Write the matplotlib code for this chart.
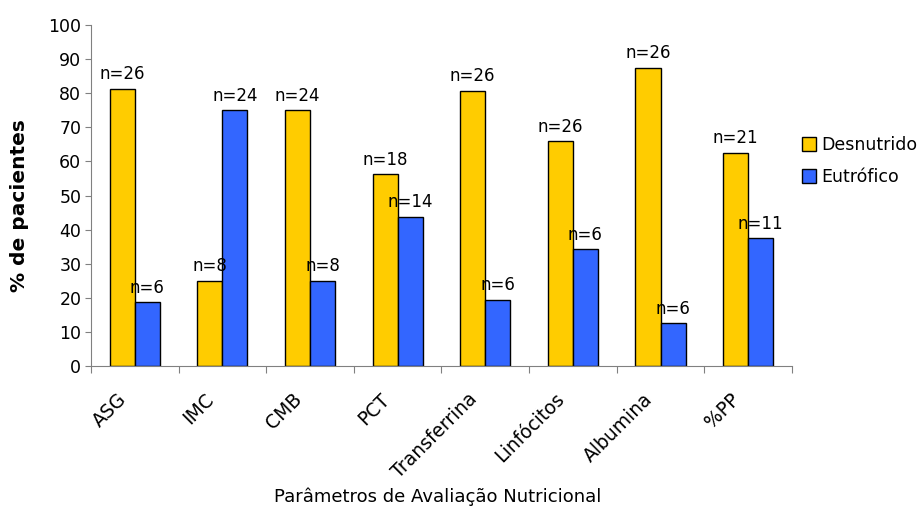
import matplotlib
matplotlib.use("Agg")
import matplotlib.pyplot as plt
import matplotlib.transforms as mtransforms
import numpy as np

categories = ["ASG", "IMC", "CMB", "PCT", "Transferrina", "Linfócitos", "Albumina", "%PP"]
desnutrido = [81.25, 25.0, 75.0, 56.25, 80.8, 65.9, 87.5, 62.5]
eutrofico = [18.75, 75.0, 25.0, 43.75, 19.4, 34.3, 12.5, 37.5]
n_desnutrido = [26, 8, 24, 18, 26, 26, 26, 21]
n_eutrofico = [6, 24, 8, 14, 6, 6, 6, 11]

plt.rcParams["font.family"] = "DejaVu Sans"

fig = plt.figure(figsize=(9.23, 5.12), dpi=100)
ax = fig.add_axes([0.0986, 0.285, 0.7594, 0.666])

x = np.arange(len(categories))
w = 0.286
b1 = ax.bar(x - w / 2, desnutrido, w, color="#FFCC00", edgecolor="black", linewidth=1.0, label="Desnutrido")
b2 = ax.bar(x + w / 2, eutrofico, w, color="#3366FF", edgecolor="black", linewidth=1.0, label="Eutrófico")

for bars, ns in ((b1, n_desnutrido), (b2, n_eutrofico)):
    for rect, n in zip(bars, ns):
        ax.annotate(f"n={n}", (rect.get_x() + rect.get_width() / 2, rect.get_height()),
                    xytext=(0, 4), textcoords="offset points", ha="center", va="bottom",
                    fontsize=12)

ax.set_xlim(-0.5, len(categories) - 0.5)
ax.set_ylim(0, 100)
ax.set_yticks(range(0, 101, 10))
ax.tick_params(axis="y", labelsize=12.5, length=4, color="#808080", pad=3)

ax.set_xticks(np.arange(len(categories) + 1) - 0.5, minor=False)
ax.set_xticklabels([])
ax.set_xticks(x, minor=True)
ax.set_xticklabels(categories, minor=True, rotation=45, ha="right", va="top",
                   rotation_mode="anchor", fontsize=13.5)
ax.tick_params(axis="x", which="major", length=5, color="#808080")
ax.tick_params(axis="x", which="minor", length=0, pad=17)
shift = mtransforms.ScaledTranslation(-0.18, 0, fig.dpi_scale_trans)
for lab in ax.get_xticklabels(minor=True):
    lab.set_transform(lab.get_transform() + shift)

for s in ("top", "right"):
    ax.spines[s].set_visible(False)
for s in ("left", "bottom"):
    ax.spines[s].set_color("#808080")

ax.set_ylabel("% de pacientes", fontsize=14.5, fontweight="bold")
ax.yaxis.set_label_coords(-0.088, 0.472)
fig.text(0.474, 0.03, "Parâmetros de Avaliação Nutricional", ha="center", va="center", fontsize=13)

fig.legend(handles=[b1, b2], loc="center left", bbox_to_anchor=(802 / 923, 1 - 161 / 512),
           frameon=False, fontsize=12.5, handlelength=0.8, handleheight=0.8,
           handletextpad=0.3, labelspacing=0.8, borderpad=0, borderaxespad=0)

fig.savefig("out.png", dpi=100)
